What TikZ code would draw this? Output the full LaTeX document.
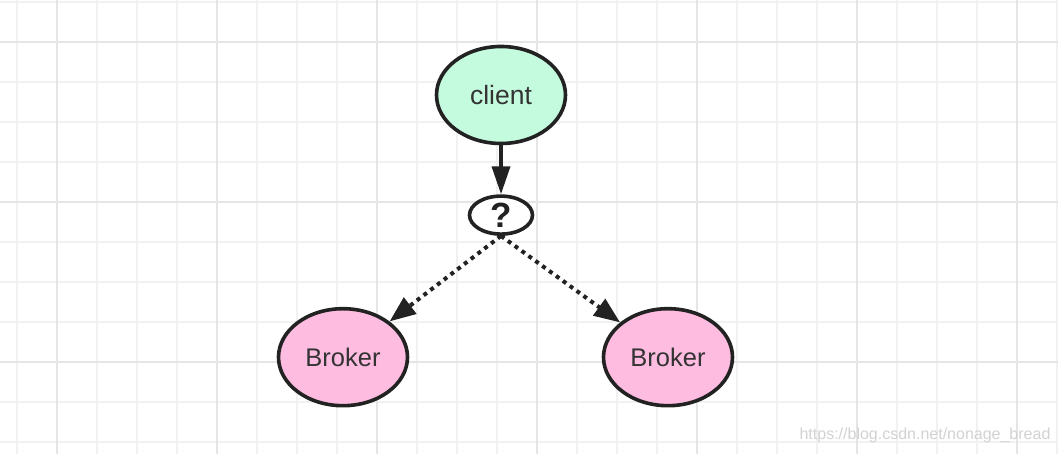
\documentclass[tikz,border=0pt]{standalone}
\usepackage{fontspec}
\setmainfont{Liberation Sans}
\usetikzlibrary{positioning,arrows.meta,shapes.geometric}
\definecolor{mint}{RGB}{196,250,222}
\definecolor{pinkish}{RGB}{253,188,224}
\definecolor{edge}{RGB}{34,34,34}
\definecolor{txt}{RGB}{51,51,51}
\definecolor{gridminor}{RGB}{241,241,241}
\definecolor{gridmajor}{RGB}{229,229,229}
\tikzstyle{gridline}=[gridminor, line width=2pt]
\tikzstyle{gridbold}=[gridmajor, line width=2pt]
\tikzstyle{clientbox}=[ellipse, draw=edge, fill=mint, line width=3.6pt, minimum width=129pt, minimum height=97pt, inner sep=0pt, text=txt, font=\fontsize{26.5}{30}\selectfont]
\tikzstyle{brokerbox}=[ellipse, draw=edge, fill=pinkish, line width=3.6pt, minimum width=129pt, minimum height=97pt, inner sep=0pt, text=txt, font=\fontsize{25.5}{29}\selectfont]
\tikzstyle{askbox}=[ellipse, draw=edge, fill=white, line width=3.6pt, minimum width=63pt, minimum height=38pt, inner sep=0pt, text=edge, font=\fontsize{35}{38}\selectfont\bfseries]
\tikzstyle{line}=[-{Triangle[length=28pt,width=18pt]}, edge, line width=3.6pt]
\tikzstyle{sline}=[-{Triangle[length=26pt,width=20pt]}, edge, line width=4pt, dash pattern=on 4pt off 4.5pt]

\begin{document}
\begin{tikzpicture}[x=1pt, y=1pt]
\useasboundingbox (0,0) rectangle (1058,454);
\fill[white] (0,0) rectangle (1058,454);

% grid
\foreach \gx in {17,57,...,1057} \draw[gridline] (\gx,0) -- (\gx,454);
\foreach \gy in {12,52,...,452} \draw[gridline] (0,\gy) -- (1058,\gy);
\foreach \gx in {57,217,...,1017} \draw[gridbold] (\gx,0) -- (\gx,454);
\foreach \gy in {92,252,412} \draw[gridbold] (0,\gy) -- (1058,\gy);

% nodes
\node (client) [clientbox] at (501,359) {client};
\node (ask) [askbox, below=49pt of client] {?};
\node (brokerl) [brokerbox, below=71pt of ask, xshift=-158pt] {Broker};
\node (brokerr) [brokerbox, below=71pt of ask, xshift=167pt] {Broker};

\draw[line] (client) -- (ask);
\draw[sline] (ask.south) -- (brokerl);
\draw[sline] (ask.south) -- (brokerr);

% watermark
\node (mark) [text=gray!35, font=\fontsize{16}{19}\selectfont] at (925,19) {https://blog.csdn.net/nonage\_bread};

\end{tikzpicture}
\end{document}
